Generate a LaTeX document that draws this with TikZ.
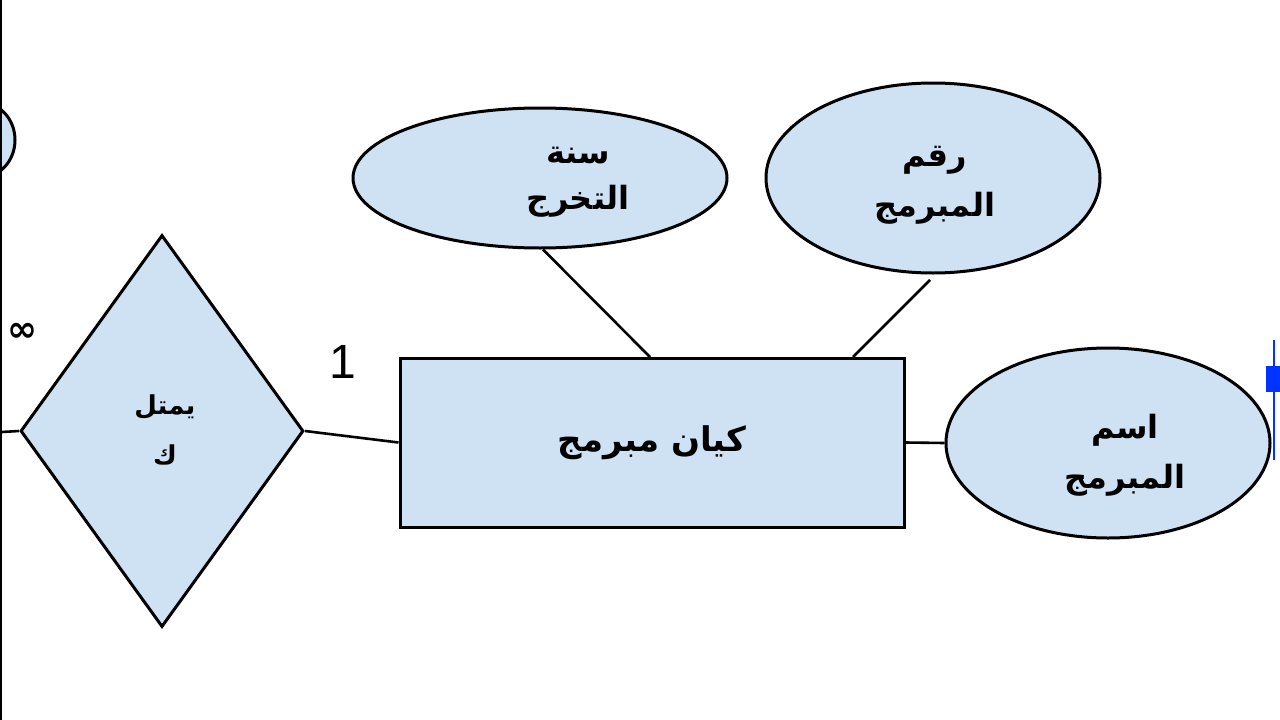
\documentclass[tikz,border=0pt]{standalone}
\usepackage{fontspec}
\TeXXeTstate=1
\newfontfamily\arabicfont[Script=Arabic]{DejaVu Sans}
\newfontfamily\symfont{DejaVu Sans}
\newfontfamily\lsans{Liberation Sans}
\usetikzlibrary{shapes.geometric}
\definecolor{fillb}{HTML}{CFE2F3}
\tikzset{
  shp/.style={draw=black,line width=3pt,fill=fillb},
  ln/.style={draw=black,line width=2.6pt},
  ar/.style={font=\arabicfont\bfseries\fontsize{32}{42}\selectfont,align=center,text=black}
}
\begin{document}
\begin{tikzpicture}[x=1pt,y=-1pt]
\useasboundingbox (0,0) rectangle (1280,720);
\fill[white] (0,0) rectangle (1280,720);
\draw[black,line width=2.5pt] (1,0) -- (1,720);
\begin{scope}
\clip (2,0) rectangle (1280,720);
\draw[shp] (-20,140) ellipse [x radius=35, y radius=38];
\end{scope}
\node[font=\symfont\bfseries\fontsize{36}{36}\selectfont] (inf) at (22,332) {∞};
\node[shp,diamond,minimum width=283pt,minimum height=392pt,inner sep=0pt] (rel) at (162,431) {};
\node[ar,font=\arabicfont\bfseries\fontsize{26}{50}\selectfont] (reltxt) at (165,430) {\beginR يمتل\endR\\\beginR ك\endR};
\coordinate (lft) at (2,432);
\draw[ln] (lft) -- (rel.west);
\node[shp,minimum width=504pt,minimum height=169pt,inner sep=0pt] (ent) at (652,442.5) {};
\node[ar,font=\arabicfont\bfseries\fontsize{34}{40}\selectfont] (enttxt) at (652,443) {\beginR كيان مبرمج\endR};
\node[font=\lsans\fontsize{48}{48}\selectfont] (one) at (343,362) {1};
\draw[ln] (rel.east) -- (ent.west);
\node[shp,ellipse,minimum width=374pt,minimum height=140pt] (a1) at (540,178) {};
\node[ar] (a1t) at (578,182) {\beginR سنة\endR\\[4pt]\beginR التخرج\endR};
\node[shp,ellipse,minimum width=334pt,minimum height=190pt] (a2) at (933,178) {};
\node[ar] (a2t) at (935,185) {\beginR رقم\endR\\[8pt]\beginR المبرمج\endR};
\node[shp,ellipse,minimum width=324pt,minimum height=190pt] (a3) at (1108,443) {};
\node[ar] (a3t) at (1125,455) {\beginR اسم\endR\\[8pt]\beginR المبرمج\endR};
\coordinate (e1) at (650,357);
\coordinate (e2) at (853,357);
\draw[ln] (a1.south) ++(3,0) -- (e1);
\draw[ln] (930,280) -- (e2);
\draw[ln] (ent.east) -- (a3.west);
\fill[blue!80!cyan] (1266,366) rectangle (1280,392);
\draw[blue!80!cyan,line width=2pt] (1274,340) -- (1274,366) (1274,392) -- (1274,460);
\end{tikzpicture}
\end{document}
